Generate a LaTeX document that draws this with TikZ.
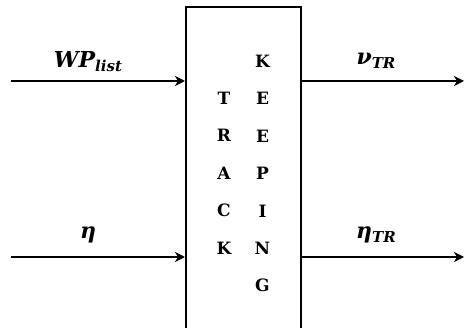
\documentclass[tikz,border=0pt]{standalone}
\usepackage{fontspec}
\setmainfont{DejaVu Serif}
\usetikzlibrary{arrows.meta}
\newcommand{\sig}[2]{{\bfseries\itshape #1\raisebox{-3.5pt}{\fontsize{15}{15}\selectfont #2}}}
\begin{document}
\begin{tikzpicture}[x=1pt,y=-1pt,line width=1.6pt,
  flow/.style={-{Stealth[length=10pt,width=10pt,inset=3pt]}},
  block/.style={draw,line width=1.8pt,minimum width=115pt,minimum height=360pt,anchor=north west,inner sep=0pt},
  letter/.style={anchor=base,font=\fontsize{17}{17}\selectfont\bfseries,inner sep=0pt},
  siglabel/.style={anchor=base,font=\fontsize{22}{22}\selectfont,inner sep=0pt}]
\clip (0,0) rectangle (465,328);
% the block, open past the lower edge
\node[block] (box) at (185,6) {};
% vertical lettering
\foreach \ch [count=\i from 0] in {T,R,A,C,K}
  \node[letter] (t\i) at (224,104.5+37.5*\i) {\ch};
\foreach \ch [count=\i from 0] in {K,E,E,P,I,N,G}
  \node[letter] (k\i) at (262.5,67.5+37.4*\i) {\ch};
% signal end points
\coordinate (inA) at (11,81);
\coordinate (inB) at (11,257);
\coordinate (outA) at (464,81);
\coordinate (outB) at (464,257);
\draw[flow] (inA) -- (inA -| box.west);
\draw[flow] (inB) -- (inB -| box.west);
\draw[flow] (outA -| box.east) -- (outA);
\draw[flow] (outB -| box.east) -- (outB);
% signal labels
\node[siglabel] (lwp) at (88,68) {\sig{WP}{list}};
\node[siglabel] (leta) at (88,239) {\sig{η}{}};
\node[siglabel] (lnu) at (376,65) {\sig{ν}{TR}};
\node[siglabel] (letatr) at (376,239) {\sig{η}{TR}};
\end{tikzpicture}
\end{document}
